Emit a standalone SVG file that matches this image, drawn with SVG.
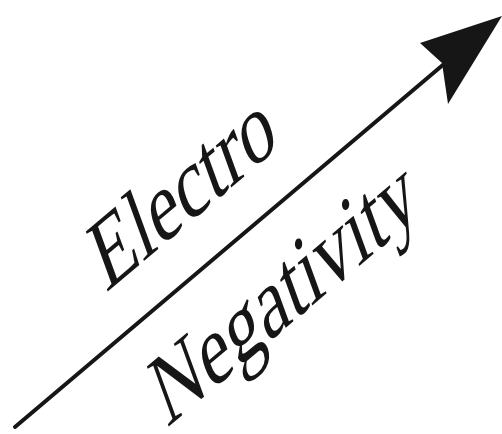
<svg xmlns="http://www.w3.org/2000/svg" width="502" height="434" viewBox="0 0 502 434">
  <style>
    .lbl { font-family: "Liberation Serif", "Times New Roman", serif; font-size: 69px; fill: #161616; }
    .shaft { stroke: #161616; stroke-width: 4; stroke-linecap: round; fill: none; }
    .head { fill: #161616; }
  </style>
  <rect width="502" height="434" fill="#ffffff"/>
  <g id="connectors">
    <line class="shaft" x1="15" y1="427" x2="444" y2="64"/>
    <polygon class="head" points="502,16 420,43 442,63 448,104"/>
  </g>
  <g id="label-electro">
    <text class="lbl" transform="matrix(0.8746 -0.737 0.4848 1.329 106 293)">Electro</text>
  </g>
  <g id="label-negativity">
    <text class="lbl" transform="matrix(0.8746 -0.737 0.4848 1.329 167 428)">Negativity</text>
  </g>
</svg>
